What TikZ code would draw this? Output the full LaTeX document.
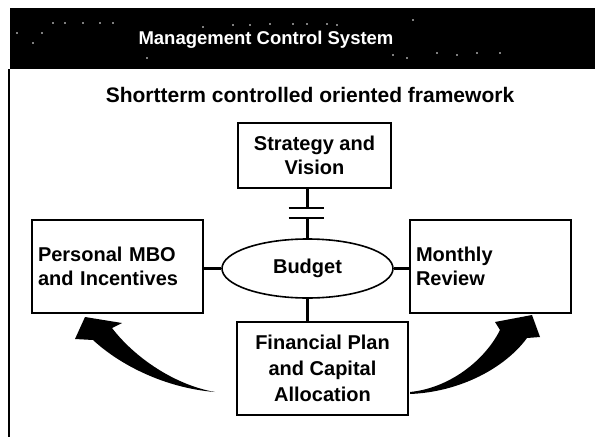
\documentclass[tikz,border=0pt]{standalone}
\usepackage{fontspec}
\setmainfont{Liberation Sans}
\usetikzlibrary{shapes.geometric}

\begin{document}
\begin{tikzpicture}[x=1pt, y=-1pt,
    box/.style={draw, line width=1.2pt, fill=white, minimum height=93pt, inner sep=6pt,
        font=\fontsize{20}{24}\selectfont\bfseries},
    link/.style={line width=2.6pt},
    swoop/.style={fill=black}]

\useasboundingbox (0,0) rectangle (595,437);

% ===== Title bar =====
\fill (10,8) rectangle (595,69);
\foreach \x/\y in {53/23,65/23,83/23,100/23,113/23,17/33,42/33,33/43,147/58,
                   203/27,233/25,250/25,270/24,293/24,307/24,327/24,337/25,
                   413/20,407/58,393/55,437/53,457/55,477/53,500/53} {
    \fill[white] (\x,\y) circle (0.9);
}
\node[text=white, font=\fontsize{18.5}{20}\selectfont\bfseries] (title) at (266,40) {Management Control System};
\draw[line width=1.2pt] (9,69) -- (9,437);

% ===== Heading =====
\node[font=\fontsize{21}{24}\selectfont\bfseries] (head) at (310,95) {Shortterm controlled oriented framework};

% ===== Boxes =====
\node[box, minimum width=153pt, minimum height=65pt, align=center] (strat) at (314.5,155.5) {Strategy and\\Vision};
\node[box, ellipse, line width=1.6pt, minimum width=171pt, minimum height=59pt, inner sep=0pt] (budget) at (307.5,268.5) {Budget};
\node[box, text width=159pt, align=left] (mbo) at (117.5,266.5) {Personal MBO\\and Incentives};
\node[box, text width=149pt, align=left] (review) at (490.5,266.5) {Monthly\\Review};
\node[box, minimum width=171pt, align=center, font=\fontsize{20}{26}\selectfont\bfseries] (plan) at (322.5,368.5) {Financial Plan\\and Capital\\Allocation};

% ===== Links =====
\draw[link] (budget.west) -- (budget.west -| mbo.east);
\draw[link] (budget.east) -- (budget.east -| review.west);

\coordinate (cutA) at (307.5,208);
\coordinate (cutB) at (307.5,218);
\draw[link] (strat.south -| budget.north) -- (cutA);
\draw[link] (cutB) -- (budget.north);
\draw[link] ([xshift=-19pt]cutA) -- ([xshift=16pt]cutA);
\draw[link] ([xshift=-19pt]cutB) -- ([xshift=16pt]cutB);

\draw[link] (budget.south) -- (budget.south |- plan.north);

% ===== Curved arrows =====
\fill[swoop] (215,392) .. controls (165,388) and (120,365) .. (93,340)
    -- (75,339) -- (85,317) -- (122,323) -- (112,328)
    .. controls (135,358) and (175,385) .. (215,392) -- cycle;

\fill[swoop] (410,392) .. controls (450,388) and (485,360) .. (500,330)
    -- (495,322) -- (532,315) -- (540,337) -- (527,338)
    .. controls (505,368) and (460,392) .. (410,394) -- cycle;

\end{tikzpicture}
\end{document}
